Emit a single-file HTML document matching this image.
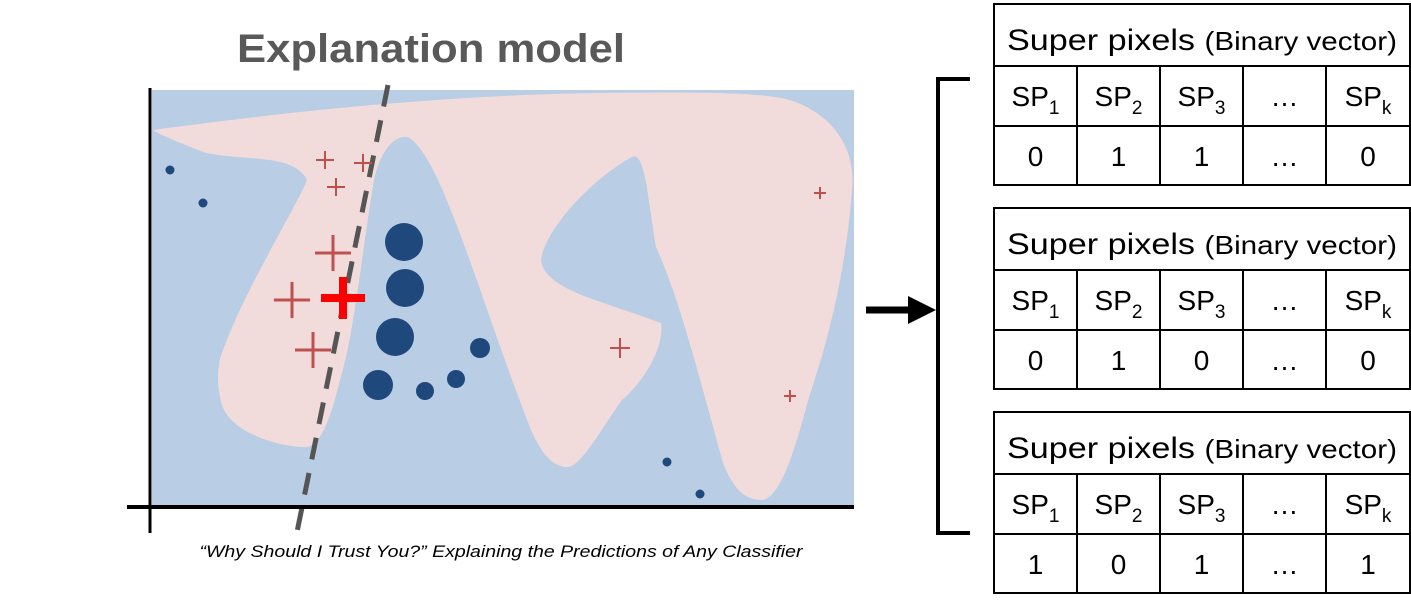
<!DOCTYPE html>
<html><head><meta charset="utf-8"><style>
html,body{margin:0;padding:0;background:#fff;}
svg{display:block;font-family:"Liberation Sans",sans-serif;}
</style></head><body>
<svg width="1411" height="609" viewBox="0 0 1411 609">
<text x="431" y="62" text-anchor="middle" font-size="40" font-weight="bold" fill="#595959" textLength="388" lengthAdjust="spacingAndGlyphs">Explanation model</text>
<g>
<rect x="152" y="90" width="702" height="416" fill="#b9cde5"/>
<path fill="#f2dcdb" d="M153,130 C300,110 450,95 598,93 C700,92 760,92 790,100 C835,115 856,150 852,190 C845,280 825,350 809,397 C795,450 780,500 761,500 C740,500 730,480 723,463 C700,380 680,300 656,247 C648,200 645,150 632,157 C590,180 545,230 541,260 C545,290 600,300 661,323 C665,350 640,385 622,400 C600,430 580,470 565,467 C550,465 540,450 531,430 C480,300 440,150 407,137 C390,135 378,160 374,180 C362,250 355,330 340,380 C330,420 320,450 302,447 C270,445 230,430 222,405 C215,380 218,360 225,345 C245,290 300,200 307,180 C300,165 280,160 250,158 C220,156 206,153 206,153 C185,145 160,135 153,130 Z"/>
<line x1="388" y1="85" x2="297" y2="532" stroke="#555" stroke-width="5" stroke-dasharray="22,14"/>
<line x1="150" y1="88" x2="150" y2="533" stroke="#000" stroke-width="3"/>
<line x1="127" y1="507" x2="854" y2="507" stroke="#000" stroke-width="4"/>
<g id="marks"></g>
</g>
<text x="501" y="557" text-anchor="middle" font-size="17" font-style="italic" fill="#000" textLength="603" lengthAdjust="spacingAndGlyphs">“Why Should I Trust You?” Explaining the Predictions of Any Classifier</text>
<g>
<line x1="866" y1="310" x2="912" y2="310" stroke="#000" stroke-width="7"/>
<polygon points="908,296 936,310 908,324" fill="#000"/>
</g>
<path d="M970,79 L938,79 L938,533 L970,533" fill="none" stroke="#000" stroke-width="4"/>
<g id="tables"></g>
</svg>
<script>
const crossX=[325,363,336,333,292,313,620,820,790];
const crossY=[160,163,187,253,300,350,348,193,396];
const crossS=[9,9,9,18,18,18,10,6,6];
const dotX=[404,405,395,378,425,456,480,170,203,667,700];
const dotY=[242,288,337,385,391,379,348,170,203,462,494];
const dotR=[19,19,19,15,9,9,10,4.5,4.5,4.5,4.5];
const queryPoint=[343,298];
const tableRows=[["0","1","1","…","0"],["0","1","0","…","0"],["1","0","1","…","1"]];
const NS="http://www.w3.org/2000/svg";
const marks=document.getElementById('marks');
function mk(tag,attrs,parent){const e=document.createElementNS(NS,tag);for(const k in attrs)e.setAttribute(k,attrs[k]);parent.appendChild(e);return e;}
crossX.forEach((x,i)=>{const y=crossY[i],s=crossS[i];
 const g=mk('g',{stroke:'#c0504d','stroke-width':s>12?3:2},marks);
 
 
 mk('line',{x1:x-s,y1:y,x2:x+s,y2:y},g);mk('line',{x1:x,y1:y-s,x2:x,y2:y+s},g);});
dotX.forEach((x,i)=>{const c=mk('circle',{cx:x,cy:dotY[i],r:dotR[i],fill:'#1f497d'},marks);
 
 });
{const [x,y]=queryPoint;const g=mk('g',{stroke:'#ff0000','stroke-width':8},marks);
 
 
 mk('line',{x1:x-22,y1:y,x2:x+22,y2:y},g);mk('line',{x1:x,y1:y-21,x2:x,y2:y+21},g);}
const tables=document.getElementById('tables');
const colX=[994,1077,1160,1243,1326,1410];
const tops=[4,208,412];
tops.forEach((t,ti)=>{
 const g=mk('g',{},tables);
 
 
 const h1=62,h2=60,h3=59;
 mk('rect',{x:994,y:t,width:416,height:h1+h2+h3,fill:'#fff',stroke:'#000','stroke-width':2},g);
 mk('line',{x1:994,y1:t+h1,x2:1410,y2:t+h1,stroke:'#000','stroke-width':2},g);
 mk('line',{x1:994,y1:t+h1+h2,x2:1410,y2:t+h1+h2,stroke:'#000','stroke-width':2},g);
 for(let i=1;i<5;i++)mk('line',{x1:colX[i],y1:t+h1,x2:colX[i],y2:t+h1+h2+h3,stroke:'#000','stroke-width':2},g);
 const hd=mk('text',{x:1202,y:t+46,'text-anchor':'middle','font-size':30,textLength:390,lengthAdjust:'spacingAndGlyphs'},g);
 
 
 hd.innerHTML='Super pixels <tspan font-size="26">(Binary vector)</tspan>';
 const subs=['1','2','3','','k'];
 for(let i=0;i<5;i++){const cx=(colX[i]+colX[i+1])/2;
  const tx=mk('text',{x:cx,y:t+h1+40,'text-anchor':'middle','font-size':28},g);
  
  
  tx.innerHTML=i===3?'…':'SP<tspan font-size="19" dy="8">'+subs[i]+'</tspan>';
  const v=mk('text',{x:cx,y:t+h1+h2+40,'text-anchor':'middle','font-size':28},g);
  
  
  v.textContent=tableRows[ti][i];}
});
</script>
</body></html>
